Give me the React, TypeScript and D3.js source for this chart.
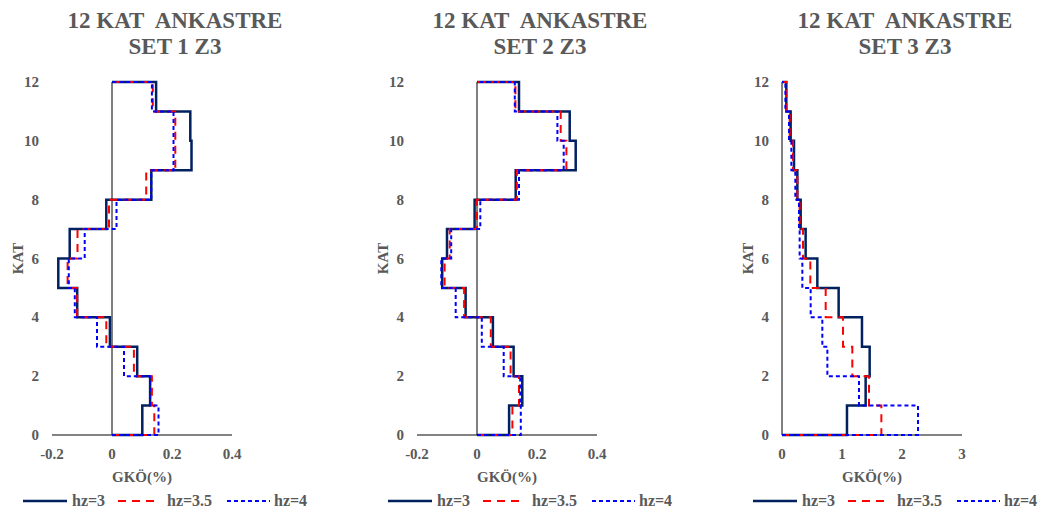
import React from "react";
import * as d3 from "d3";

const floors = [1, 2, 3, 4, 5, 6, 7, 8, 9, 10, 11, 12];
const yTicks = [0, 2, 4, 6, 8, 10, 12];
const seriesNames = ["hz=3", "hz=3.5", "hz=4"];
const titlesLine1 = ["12 KAT  ANKASTRE", "12 KAT  ANKASTRE", "12 KAT  ANKASTRE"];
const titlesLine2 = ["SET 1 Z3", "SET 2 Z3", "SET 3 Z3"];

const set1Hz3 = [0.101, 0.127, 0.084, -0.007, -0.116, -0.179, -0.141, -0.019, 0.131, 0.265, 0.261, 0.147];
const set1Hz35 = [0.141, 0.133, 0.073, -0.019, -0.116, -0.148, -0.115, -0.01, 0.114, 0.211, 0.211, 0.136];
const set1Hz4 = [0.155, 0.127, 0.04, -0.05, -0.124, -0.144, -0.091, 0.015, 0.131, 0.205, 0.205, 0.133];

const set2Hz3 = [0.107, 0.151, 0.122, 0.053, -0.038, -0.116, -0.1, -0.008, 0.129, 0.329, 0.309, 0.14];
const set2Hz35 = [0.118, 0.14, 0.112, 0.046, -0.043, -0.108, -0.091, 0.0, 0.133, 0.298, 0.279, 0.128];
const set2Hz4 = [0.146, 0.144, 0.089, 0.016, -0.071, -0.119, -0.086, 0.011, 0.14, 0.289, 0.268, 0.126];

const set3Hz3 = [1.083, 1.394, 1.461, 1.333, 0.944, 0.589, 0.394, 0.311, 0.256, 0.2, 0.144, 0.072];
const set3Hz35 = [1.656, 1.45, 1.172, 1.017, 0.728, 0.472, 0.35, 0.294, 0.256, 0.183, 0.128, 0.072];
const set3Hz4 = [2.267, 1.283, 0.756, 0.672, 0.478, 0.339, 0.294, 0.283, 0.222, 0.156, 0.117, 0.056];

const xTicks12 = [-0.2, 0, 0.2, 0.4];
const xTicks3 = [0, 1, 2, 3];

const panels = [
  { domain: [-0.2, 0.4], ticks: xTicks12, series: [set1Hz3, set1Hz35, set1Hz4] },
  { domain: [-0.2, 0.4], ticks: xTicks12, series: [set2Hz3, set2Hz35, set2Hz4] },
  { domain: [0, 3], ticks: xTicks3, series: [set3Hz3, set3Hz35, set3Hz4] },
];

const styles = [
  { color: "#002060", width: 2.5, dash: "none" },
  { color: "#FF0000", width: 2, dash: "8,6" },
  { color: "#0000FF", width: 2, dash: "4,3" },
];

const TEXT = "#595959";
const FONT = "Liberation Serif";
const txt = { fontFamily: FONT, fontWeight: 700 as const, fill: TEXT };

function Panel({ idx }: { idx: number }) {
  const p = panels[idx];
  const dx = idx * 365;
  const x = d3.scaleLinear().domain(p.domain).range([52 + dx, 232 + dx]);
  const y = d3.scaleLinear().domain([0, 12]).range([435, 82]);
  const line = d3
    .line<[number, number]>()
    .x((d) => x(d[0]))
    .y((d) => y(d[1]));

  const stepPts = (vals: number[]): [number, number][] => {
    const pts: [number, number][] = [[0, 0]];
    floors.forEach((f, i) => {
      pts.push([vals[i], f - 1]);
      pts.push([vals[i], f]);
    });
    pts.push([0, 12]);
    return pts;
  };

  const cx = 175 + dx;
  const legendX = [23, 118, 227];
  const legendW = [44, 37, 43];
  const legendTX = [72, 167, 274];

  return (
    <g>
      <text x={cx} y={28} textAnchor="middle" fontSize={23} style={txt} xmlSpace="preserve">
        {titlesLine1[idx].replace(/  /g, "\u00a0 ")}
      </text>
      <text x={cx} y={54} textAnchor="middle" fontSize={23} style={txt}>
        {titlesLine2[idx]}
      </text>
      <line x1={x(p.domain[0])} x2={x(p.domain[1])} y1={y(0)} y2={y(0)} stroke="#595959" strokeWidth={1.5} />
      {yTicks.map((t) => (
        <text key={t} x={39 + dx} y={y(t) + 5} textAnchor="end" fontSize={15} style={txt}>
          {t}
        </text>
      ))}
      {p.ticks.map((t) => (
        <text key={t} x={x(t)} y={459} textAnchor="middle" fontSize={15} style={txt}>
          {t}
        </text>
      ))}
      <text x={x((p.domain[0] + p.domain[1]) / 2)} y={482} textAnchor="middle" fontSize={15} style={txt}>
        GKÖ(%)
      </text>
      <text
        transform={`translate(${23 + dx},${y(6)}) rotate(-90)`}
        textAnchor="middle"
        fontSize={15}
        style={txt}
      >
        KAT
      </text>
      <line x1={x(0)} x2={x(0)} y1={y(0)} y2={y(12)} stroke="#000" strokeWidth={1} />
      {p.series.map((vals, si) => (
        <path
          key={si}
          d={line(stepPts(vals)) || ""}
          fill="none"
          stroke={styles[si].color}
          strokeWidth={styles[si].width}
          strokeDasharray={styles[si].dash}
          strokeLinejoin="miter"
        />
      ))}
      {seriesNames.map((n, si) => (
        <g key={n}>
          <line
            x1={legendX[si] + dx}
            x2={legendX[si] + legendW[si] + dx}
            y1={501}
            y2={501}
            stroke={styles[si].color}
            strokeWidth={styles[si].width}
            strokeDasharray={styles[si].dash}
          />
          <text x={legendTX[si] + dx} y={506} fontSize={16} style={txt}>
            {n}
          </text>
        </g>
      ))}
    </g>
  );
}

export default function App() {
  return (
    <svg width={1046} height={510} style={{ position: "absolute", left: 0, top: 0, background: "#fff" }}>
      <rect width={1046} height={510} fill="#fff" />
      {panels.map((_, i) => (
        <Panel key={i} idx={i} />
      ))}
    </svg>
  );
}
